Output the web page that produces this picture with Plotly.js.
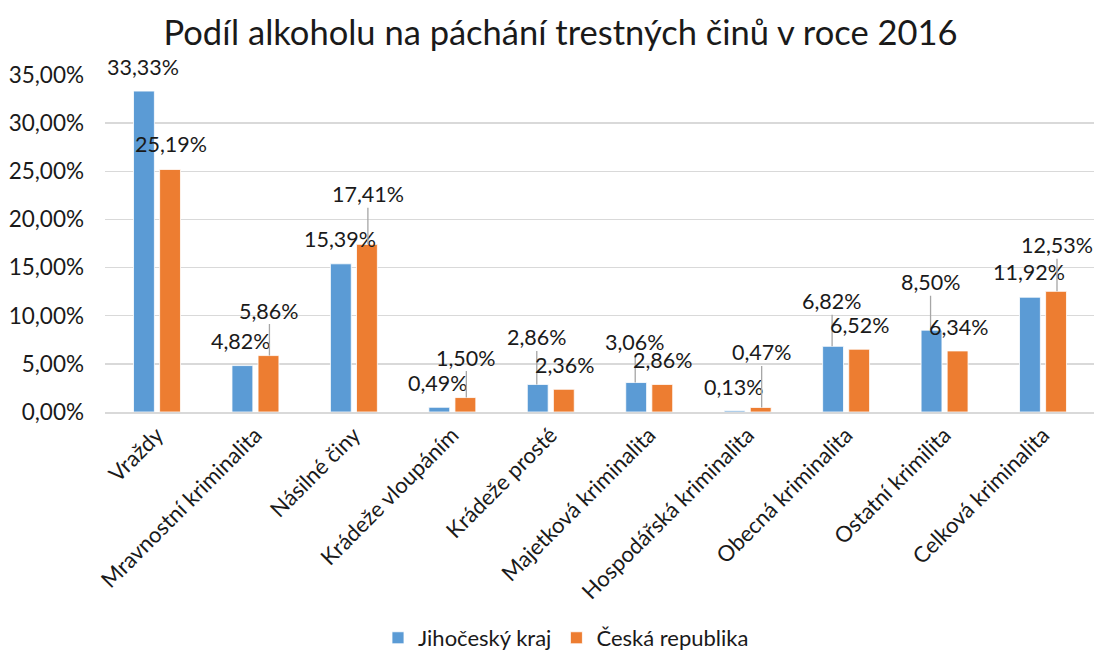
<!DOCTYPE html>
<html>
<head>
<meta charset="utf-8">
<script src="https://cdn.plot.ly/plotly-3.0.1.min.js"></script>
<style>html,body{margin:0;padding:0;background:#fff;}#chart{width:1099px;height:653px;}</style>
</head>
<body>
<div id="chart"></div>
<script>
const categories = ["Vraždy", "Mravnostní kriminalita", "Násilné činy", "Krádeže vloupáním", "Krádeže prosté", "Majetková kriminalita", "Hospodářská kriminalita", "Obecná kriminalita", "Ostatní krimilita", "Celková kriminalita"];
const jihocesky = [33.33, 4.82, 15.39, 0.49, 2.86, 3.06, 0.13, 6.82, 8.50, 11.92];
const ceskaRepublika = [25.19, 5.86, 17.41, 1.50, 2.36, 2.86, 0.47, 6.52, 6.34, 12.53];
const seriesNames = ["Jihočeský kraj", "Česká republika"];
const yTickVals = [0, 5, 10, 15, 20, 25, 30, 35];
const yTickText = ["0,00%", "5,00%", "10,00%", "15,00%", "20,00%", "25,00%", "30,00%", "35,00%"];

// label placement style: pixel lift of each data label (leader line when lifted high)
const liftBlue = [24, 25, 25, 24, 47, 41, 24, 45, 48, 25];
const liftOrange = [25, 45, 50, 40, 24, 24, 55, 24, 24, 46];

const FONT = "Lato, 'Open Sans', sans-serif";
const fmt = v => v.toFixed(2).replace('.', ',') + '%';

function makeAnnotations(values, lifts, shift) {
  return values.map((v, i) => {
    const lift = lifts[i];
    const leader = lift > 35;
    const a = {
      x: categories[i], y: v, xref: 'x', yref: 'y',
      text: fmt(v), xshift: shift,
      font: {family: FONT, size: 21.5, color: '#1a1a1a'}
    };
    if (leader) {
      Object.assign(a, {showarrow: true, arrowhead: 0, arrowwidth: 1.3, arrowcolor: '#a6a6a6', ax: 0, ay: -lift, standoff: 0, borderpad: 0});
    } else {
      Object.assign(a, {showarrow: false, yshift: lift, xanchor: 'center', yanchor: 'middle'});
    }
    return a;
  });
}

const traces = [
  {type: 'bar', name: seriesNames[0], x: categories, y: jihocesky, marker: {color: '#5B9BD5', line: {color: '#ffffff', width: 0.8}}, hoverinfo: 'none'},
  {type: 'bar', name: seriesNames[1], x: categories, y: ceskaRepublika, marker: {color: '#ED7D31', line: {color: '#ffffff', width: 0.8}}, hoverinfo: 'none'}
];

const layout = {
  width: 1099, height: 653,
  margin: {l: 105, r: 5, t: 75, b: 241, autoexpand: false},
  paper_bgcolor: '#ffffff', plot_bgcolor: '#ffffff',
  font: {family: FONT, size: 22, color: '#1a1a1a'},
  title: {text: 'Podíl alkoholu na páchání trestných činů v roce 2016', font: {family: FONT, size: 34.5, color: '#1a1a1a'}, x: 0.51, xref: 'container', xanchor: 'center', y: 0.949, yref: 'container', yanchor: 'middle'},
  barmode: 'group', bargap: 0.47, bargroupgap: 0.2,
  showlegend: true,
  legend: {orientation: 'h', x: 0.515, xref: 'container', xanchor: 'center', y: 0.023, yref: 'container', yanchor: 'middle', font: {family: FONT, size: 22, color: '#1a1a1a'}, itemwidth: 30, traceorder: 'normal'},
  xaxis: {type: 'category', tickangle: -45, showgrid: false, showline: true, linecolor: '#d9d9d9', linewidth: 1.5, ticks: '', tickfont: {family: FONT, size: 22, color: '#1a1a1a'}, automargin: false},
  yaxis: {range: [0, 35], tickvals: yTickVals, ticktext: yTickText, showgrid: true, gridcolor: '#d9d9d9', gridwidth: 1.5, zeroline: false, showline: false, ticks: '', ticklabelstandoff: 20, tickfont: {family: FONT, size: 22.5, color: '#1a1a1a'}, automargin: false},
  annotations: makeAnnotations(jihocesky, liftBlue, -14).concat(makeAnnotations(ceskaRepublika, liftOrange, 14))
};

Plotly.newPlot('chart', traces, layout, {staticPlot: true, displayModeBar: false});
</script>
</body>
</html>
